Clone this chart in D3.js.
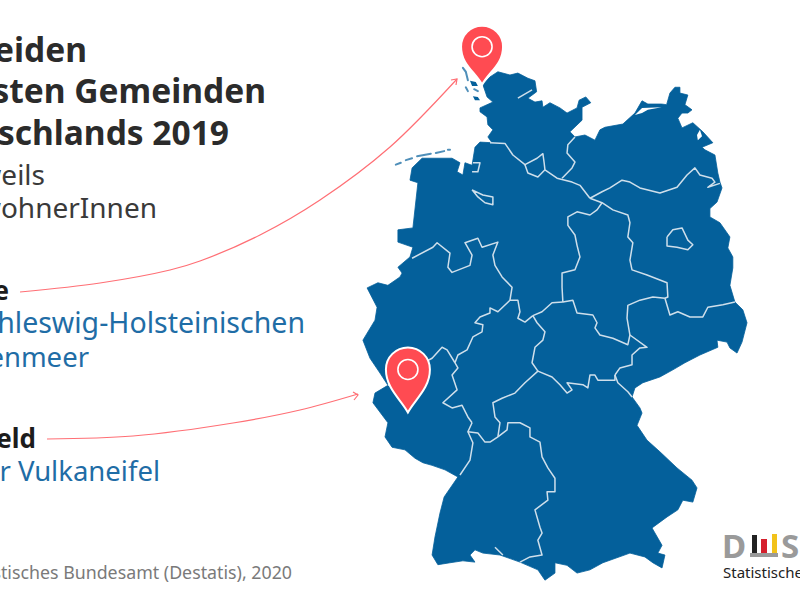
<!DOCTYPE html>
<html>
<head>
<meta charset="utf-8">
<script src="https://cdn.jsdelivr.net/npm/d3@7"></script>
<style>
  html, body { margin: 0; padding: 0; background: #fff; overflow: hidden; }
  text { font-family: "Noto Sans", sans-serif; }
</style>
</head>
<body>
<div id="chart"></div>
<script>
// map data, all [lon, lat]
var germanyOutline = [[8.70,54.91],[8.87,55.03],[9.06,55.11],[9.35,55.06],[9.54,55.09],[9.78,55.01],[9.95,54.97],[9.99,54.80],[9.78,54.70],[9.95,54.64],[10.12,54.66],[10.14,54.56],[10.31,54.63],[10.55,54.55],[10.72,54.47],[10.96,54.55],[11.01,54.67],[11.17,54.72],[11.29,54.63],[11.08,54.56],[11.08,54.36],[10.79,54.18],[10.91,54.10],[11.15,54.13],[11.39,54.05],[11.51,54.21],[11.63,54.25],[12.06,54.30],[12.35,54.47],[12.52,54.66],[12.66,54.61],[12.99,54.61],[13.11,54.60],[13.19,54.78],[13.31,54.87],[13.43,54.87],[13.43,54.78],[13.62,54.75],[13.55,54.60],[13.72,54.52],[13.62,54.47],[13.48,54.47],[13.38,54.39],[13.48,54.24],[13.74,54.32],[13.98,54.18],[14.22,54.01],[13.96,53.94],[14.03,53.90],[14.27,53.82],[14.34,53.54],[14.39,53.40],[14.44,53.31],[14.32,53.09],[14.15,52.99],[14.15,52.86],[14.39,52.77],[14.63,52.55],[14.58,52.38],[14.70,52.24],[14.70,52.07],[14.63,51.80],[14.75,51.54],[14.94,51.42],[15.04,51.22],[14.92,50.92],[14.80,50.75],[14.63,50.83],[14.56,50.92],[14.32,50.95],[14.34,50.84],[13.91,50.72],[13.55,50.60],[13.26,50.49],[12.95,50.38],[12.54,50.29],[12.35,50.21],[12.28,50.07],[12.47,49.90],[12.52,49.82],[12.40,49.63],[12.64,49.40],[12.95,49.22],[13.36,48.97],[13.72,48.78],[13.84,48.66],[13.74,48.44],[13.50,48.47],[13.38,48.32],[13.12,48.21],[12.76,48.04],[13.00,47.77],[12.90,47.65],[13.07,47.62],[13.00,47.42],[12.78,47.50],[12.59,47.59],[12.23,47.65],[11.58,47.50],[11.27,47.39],[10.96,47.34],[10.72,47.46],[10.43,47.50],[10.43,47.34],[10.19,47.23],[10.02,47.39],[9.59,47.51],[9.11,47.62],[8.70,47.65],[8.51,47.70],[8.39,47.62],[8.51,47.51],[8.22,47.53],[7.91,47.50],[7.62,47.47],[7.48,47.62],[7.55,47.90],[7.67,48.27],[7.77,48.52],[8.10,48.83],[7.79,48.94],[7.48,49.01],[7.26,49.05],[7.07,49.12],[6.83,49.25],[6.52,49.29],[6.35,49.45],[6.42,49.67],[6.06,49.98],[6.11,50.13],[6.42,50.25],[6.23,50.44],[5.99,50.67],[5.82,50.95],[6.11,51.26],[6.16,51.46],[5.92,51.76],[6.18,51.84],[6.42,51.80],[6.71,51.93],[6.76,51.99],[6.66,52.08],[6.95,52.24],[7.02,52.39],[6.66,52.47],[6.66,52.66],[7.02,52.69],[7.14,53.39],[6.95,53.43],[7.00,53.62],[7.24,53.77],[7.96,53.77],[8.15,53.70],[8.08,53.56],[8.22,53.51],[8.27,53.70],[8.44,53.66],[8.51,53.94],[8.63,54.02],[8.92,54.01],[8.82,54.10],[8.94,54.21],[8.82,54.29],[8.80,54.41],[8.63,54.49],[8.63,54.55],[8.94,54.64],[8.80,54.72]];

var islandStrips = [
  [[8.22,55.17],[8.29,55.11],[8.34,54.98]],
  [[8.29,54.87],[8.34,54.81]],
  [[8.49,54.84],[8.58,54.81]],
  [[6.61,53.67],[6.73,53.70]],
  [[6.85,53.74],[7.00,53.77]],
  [[7.12,53.80],[7.45,53.84]],
  [[7.57,53.85],[7.77,53.88]],
  [[7.86,53.90],[7.91,53.90]]
];

var islandBlobs = [
  [[8.39,54.97],[8.53,54.95],[8.58,54.89],[8.44,54.89]],
  [[8.46,54.73],[8.58,54.72],[8.63,54.67],[8.51,54.67]]
];

var lagoons = [
  [[12.35,54.44],[12.52,54.55],[12.99,54.56],[12.66,54.52],[12.52,54.47]],
  [[13.84,54.13],[13.91,54.21],[13.96,54.11],[13.86,54.05]]
];

var stateBorders = [
  [[8.87,54.01],[9.23,54.00],[9.42,53.82],[9.71,53.67],[10.00,53.77],[10.14,53.84],[10.17,53.70],[10.19,53.59],[10.48,53.46],[10.84,53.40],[11.03,53.35],[11.27,53.15]],
  [[9.71,53.67],[9.78,53.54],[10.02,53.48],[10.19,53.59]],
  [[10.91,54.10],[10.74,53.98],[10.72,53.85],[10.91,53.71],[10.84,53.62],[10.60,53.46]],
  [[11.27,53.15],[11.56,53.25],[11.75,53.31],[12.04,53.43],[12.23,53.40],[12.47,53.31],[12.95,53.23],[13.36,53.32],[13.60,53.51],[13.79,53.62],[13.91,53.51],[14.20,53.46],[14.27,53.40],[14.10,53.32],[14.39,53.38]],
  [[11.27,53.15],[11.56,53.08],[11.82,52.97],[12.18,52.89],[12.23,52.77],[12.18,52.55],[12.30,52.46],[12.23,52.19],[12.28,52.04],[12.64,51.96],[13.12,51.84],[13.14,51.62],[13.07,51.60]],
  [[13.07,51.60],[13.19,51.34],[13.38,51.39],[13.67,51.31],[13.98,51.31],[14.10,51.46],[14.46,51.50],[14.75,51.54]],
  [[13.07,51.60],[12.78,51.62],[12.47,51.57],[12.18,51.49],[12.16,51.29],[12.23,51.03]],
  [[12.23,51.03],[12.64,50.84],[12.47,50.83],[12.28,50.72],[12.28,50.57],[11.99,50.52],[11.87,50.41]],
  [[11.87,50.41],[11.94,50.29],[12.18,50.15],[12.28,50.07]],
  [[10.62,51.54],[10.86,51.57],[10.96,51.37],[11.34,51.34],[11.44,51.22],[11.39,51.14],[11.51,51.03],[11.82,50.98],[12.18,50.88],[12.23,51.03]],
  [[11.56,53.08],[11.44,52.97],[11.27,52.89],[10.96,52.94],[10.74,52.86],[10.74,52.73],[10.91,52.58],[10.96,52.42],[11.03,52.24],[10.91,52.04],[10.60,51.99],[10.60,51.77],[10.62,51.54]],
  [[10.62,51.54],[10.36,51.53],[10.12,51.39],[9.90,51.33]],
  [[9.90,51.33],[10.00,51.22],[10.19,51.08],[10.14,50.95],[9.95,50.84],[9.88,50.60],[10.02,50.47]],
  [[10.02,50.47],[10.36,50.38],[10.55,50.26],[10.72,50.13],[10.84,50.18],[10.72,50.29],[11.10,50.26],[11.22,50.21],[11.27,50.41],[11.39,50.41],[11.46,50.33],[11.87,50.33],[11.87,50.41]],
  [[10.02,50.47],[9.71,50.29],[9.47,50.13],[9.16,50.05],[8.94,49.98],[8.99,49.76],[9.11,49.67],[9.06,49.45]],
  [[8.34,49.53],[8.58,49.51],[8.75,49.37],[8.87,49.37],[9.06,49.45]],
  [[8.44,49.67],[8.34,49.53],[8.46,49.36],[8.39,49.09],[8.15,48.86]],
  [[9.06,49.45],[9.28,49.56],[9.30,49.67],[9.59,49.67],[9.83,49.59],[9.83,49.45],[10.07,49.37],[10.12,49.14],[10.26,48.97],[10.43,48.81],[10.43,48.60],[10.24,48.60],[10.26,48.47],[9.95,48.32],[10.07,48.05],[10.12,47.96],[10.02,47.85],[10.12,47.62],[9.83,47.59],[9.59,47.51]],
  [[8.99,47.74],[9.18,47.62]],
  [[6.42,50.25],[6.83,50.41],[7.19,50.57],[7.48,50.67],[7.72,50.84],[7.84,50.80],[8.03,50.60]],
  [[8.03,50.60],[8.10,50.52],[7.96,50.41],[8.08,50.18],[7.74,49.98],[7.96,49.90],[8.20,49.94],[8.34,49.76],[8.44,49.67]],
  [[8.03,50.60],[8.10,50.72],[8.32,50.80],[8.46,51.00],[8.68,51.08],[8.70,51.19],[8.51,51.22],[8.63,51.31],[8.87,51.37],[8.87,51.45],[9.06,51.39],[9.35,51.57]],
  [[9.35,51.57],[9.54,51.57],[9.59,51.39],[9.54,51.29],[9.71,51.23],[9.90,51.33]],
  [[9.35,51.57],[9.40,51.77],[9.16,51.93],[8.99,52.11],[8.94,52.27],[9.06,52.47],[8.68,52.39],[8.58,52.53],[8.27,52.46],[8.44,52.27],[8.39,52.11],[7.96,52.00],[7.86,52.08],[7.91,52.30],[7.60,52.46],[7.50,52.39],[7.00,52.22]],
  [[8.44,53.28],[8.70,53.20],[8.94,53.17],[8.94,53.05],[8.75,53.08],[8.58,53.17],[8.44,53.28]],
  [[8.46,53.70],[8.63,53.70],[8.58,53.56],[8.44,53.56]],
  [[13.12,52.55],[13.26,52.66],[13.48,52.69],[13.62,52.50],[13.74,52.43],[13.62,52.35],[13.36,52.39],[13.12,52.41],[13.12,52.55]],
  [[9.54,54.70],[9.88,54.83]]
];

var pinNames = ["Gröde", "Dierfeld"];
var pinLocations = [[8.68,54.91],[6.90,49.83]];

var titleLines = ["Die beiden", "kleinsten Gemeinden", "Deutschlands 2019"];
var subtitleLines = ["Mit jeweils", "9 EinwohnerInnen"];
var placeDetails = [["im Schleswig-Holsteinischen", "Wattenmeer"], ["in der Vulkaneifel"]];
var sourceText = "Quelle: Statistisches Bundesamt (Destatis), 2020";
var logoText = "Statistisches Bundesamt";

var svgWidth = 800;
var svgHeight = 600;

var svg = d3.select("#chart").append("svg")
  .attr("width", svgWidth)
  .attr("height", svgHeight);

var xScale = d3.scaleLinear().domain([5.87, 15.04]).range([365, 747]);
var yScale = d3.scaleLinear().domain([55.06, 47.27]).range([75, 577.6]);

var mapLine = d3.line()
  .x(function(d) { return xScale(d[0]); })
  .y(function(d) { return yScale(d[1]); });

var mapColor = "#04609b";
var red = "#ff4b52";

svg.append("path")
  .attr("d", mapLine(germanyOutline) + "Z")
  .attr("fill", mapColor)
  .attr("stroke", mapColor)
  .attr("stroke-width", 0.8)
  .attr("stroke-linejoin", "round");

svg.selectAll(".strip").data(islandStrips).enter().append("path")
  .attr("class", "strip")
  .attr("d", mapLine)
  .attr("fill", "none")
  .attr("stroke", mapColor)
  .attr("stroke-width", 2)
  .attr("stroke-linecap", "round")
  .attr("opacity", 0.7);

svg.selectAll(".blob").data(islandBlobs).enter().append("path")
  .attr("class", "blob")
  .attr("d", function(d) { return mapLine(d) + "Z"; })
  .attr("fill", mapColor);

svg.selectAll(".lagoon").data(lagoons).enter().append("path")
  .attr("class", "lagoon")
  .attr("d", function(d) { return mapLine(d) + "Z"; })
  .attr("fill", "#fff");

svg.selectAll(".border").data(stateBorders).enter().append("path")
  .attr("class", "border")
  .attr("d", mapLine)
  .attr("fill", "none")
  .attr("stroke", "#cfdfeb")
  .attr("stroke-width", 1.5)
  .attr("stroke-linejoin", "round");

// leader lines from the place names to the pins
var leaderLine = d3.line().curve(d3.curveCatmullRom);
var leaders = [
  { points: [[20,292],[100,283],[170,270],[200,261],[260,235],[320,200],[390,147],[457,79]], head: [[451,80],[457,79],[456,85]] },
  { points: [[47,439],[133,436],[233,423],[300,410],[358,394]], head: [[353,392],[358,395],[354,400]] }
];
leaders.forEach(function(l) {
  svg.append("path").attr("d", leaderLine(l.points))
    .attr("fill", "none").attr("stroke", "#ff6f75").attr("stroke-width", 1.2);
  svg.append("path").attr("d", d3.line()(l.head))
    .attr("fill", "none").attr("stroke", "#ff6f75").attr("stroke-width", 1.2);
});

// pins, tip sits on the place
var pinSizes = [{ r: 21, h: 38 }, { r: 22, h: 43 }];
var pins = svg.selectAll(".pin").data(pinLocations).enter().append("g")
  .attr("class", "pin")
  .attr("transform", function(d) { return "translate(" + xScale(d[0]) + "," + yScale(d[1]) + ")"; });

pins.append("path")
  .attr("d", function(d, i) {
    var r = pinSizes[i].r, h = pinSizes[i].h;
    return "M0,0C-7,-13," + (-r) + "," + (-h + r * 0.85) + "," + (-r) + "," + (-h)
      + "A" + r + "," + r + " 0 1 1 " + r + "," + (-h)
      + "C" + r + "," + (-h + r * 0.85) + ",7,-13,0,0Z";
  })
  .attr("fill", red)
  .attr("stroke", "#fff")
  .attr("stroke-width", 2);

pins.append("circle")
  .attr("cy", function(d, i) { return -pinSizes[i].h; })
  .attr("r", 10)
  .attr("fill", "none")
  .attr("stroke", "#fff")
  .attr("stroke-width", 1.6);

// texts, right aligned because their start runs off the left edge
function addText(str, xEnd, y, size, weight, color) {
  return svg.append("text")
    .attr("x", xEnd).attr("y", y)
    .attr("text-anchor", "end")
    .attr("font-size", size)
    .attr("font-weight", weight)
    .attr("fill", color)
    .text(str);
}

var dark = "#2b2b2b";
var blue = "#1f6da6";
addText(titleLines[0], 87, 62, 33.5, 700, dark);
addText(titleLines[1], 266, 103, 33.5, 700, dark);
addText(titleLines[2], 229, 145, 33.5, 700, dark);
addText(subtitleLines[0], 45, 185, 28, 400, "#3a3a3a");
addText(subtitleLines[1], 157, 218, 28, 400, "#3a3a3a");
addText(pinNames[0], 9, 300, 26, 700, "#1c1c1c");
addText(placeDetails[0][0], 305, 333, 28.5, 400, blue);
addText(placeDetails[0][1], 89, 367, 27.5, 400, blue);
addText(pinNames[1], 36, 448, 26, 700, "#1c1c1c");
addText(placeDetails[1][0], 160, 481, 27.5, 400, blue);
addText(sourceText, 292, 579, 17.8, 400, "#7a7a7a");

// destatis logo
var logo = svg.append("g");
logo.append("text").attr("x", 722).attr("y", 558).attr("font-size", 33).attr("font-weight", 700).attr("fill", "#9a9a9a").text("D");
logo.append("text").attr("x", 781).attr("y", 558).attr("font-size", 33).attr("font-weight", 700).attr("fill", "#9a9a9a").text("S");
logo.append("rect").attr("x", 750).attr("y", 553).attr("width", 28).attr("height", 4).attr("fill", "#9a9a9a");
logo.append("rect").attr("x", 752).attr("y", 535).attr("width", 5).attr("height", 18).attr("fill", "#222");
logo.append("rect").attr("x", 761).attr("y", 539).attr("width", 6).attr("height", 14).attr("fill", "#d5202d");
logo.append("rect").attr("x", 772).attr("y", 534).attr("width", 5).attr("height", 19).attr("fill", "#f2c21a");
logo.append("text").attr("x", 723).attr("y", 578).attr("font-size", 15).attr("fill", "#222").text(logoText);
</script>
</body>
</html>
